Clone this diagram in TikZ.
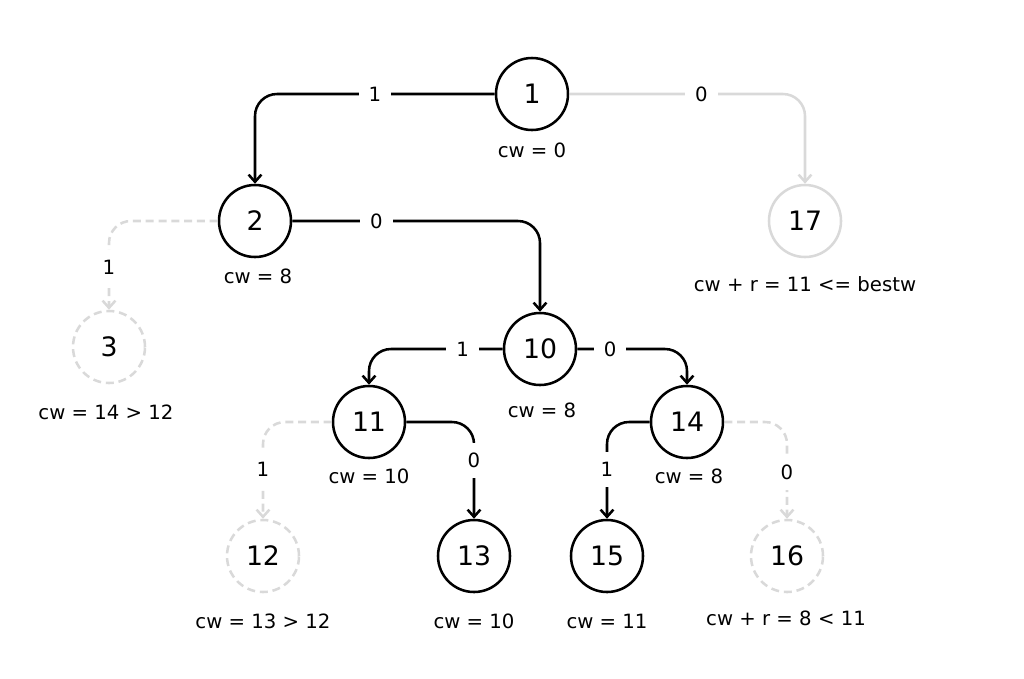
\documentclass[tikz,border=0pt]{standalone}
\usepackage{fontspec}
\setmainfont{DejaVu Sans}
\usetikzlibrary{arrows.meta}
\definecolor{cutgray}{HTML}{D9D9D9}
\tikzstyle{state} = [circle, draw, line width=1.8pt, minimum size=1.8cm,
    inner sep=0pt, font=\fontsize{19}{21}\selectfont]
\tikzstyle{bound} = [state, draw=cutgray]
\tikzstyle{pruned} = [state, draw=cutgray, dash pattern=on 2mm off 1.2mm]
\tikzstyle{line} = [draw, line width=1.8pt, rounded corners=0.55cm,
    -{Straight Barb[length=1.8mm,width=3.2mm]}]
\tikzstyle{cutline} = [line, cutgray]
\tikzstyle{cutdash} = [cutline, dash pattern=on 2mm off 1.2mm]
\tikzstyle{bit} = [fill=white, text=black, sharp corners, inner sep=2.5mm,
    inner ysep=0.5mm, font=\fontsize{14}{16}\selectfont]
\tikzstyle{note} = [font=\fontsize{14}{16}\selectfont]

\begin{document}
\begin{tikzpicture}[x=0.025cm, y=-0.025cm]
    \useasboundingbox (0,0) rectangle (1024,678);
    % Place nodes
    % Level 0 and 1
    \node [state] (n1) at (532,94) {1};
    \node [state] (n2) at (255,221) {2};
    \node [bound] (n17) at (805,221) {17};
    \node [pruned] (n3) at (109,347) {3};
    % Level 2 and 3
    \node [state] (n10) at (540,349) {10};
    \node [state] (n11) at (369,422) {11};
    \node [state] (n14) at (687,422) {14};
    % Leaves
    \node [pruned] (n12) at (263,556) {12};
    \node [state] (n13) at (474,556) {13};
    \node [state] (n15) at (607,556) {15};
    \node [pruned] (n16) at (787,556) {16};

    % Notes
    \node [note] (w1) at (532,150) {cw = 0};
    \node [note] (w2) at (258,276) {cw = 8};
    \node [note] (w17) at (805,284) {cw + r = 11 <= bestw};
    \node [note] (w3) at (106,412) {cw = 14 > 12};
    \node [note] (w10) at (542,410) {cw = 8};
    \node [note] (w11) at (369,476) {cw = 10};
    \node [note] (w14) at (689,476) {cw = 8};
    \node [note] (w12) at (263,621) {cw = 13 > 12};
    \node [note] (w13) at (474,621) {cw = 10};
    \node [note] (w15) at (607,621) {cw = 11};
    \node [note] (w16) at (786,618) {cw + r = 8 < 11};

    % Draw edges
    \path [line] (n1.west) -| node[bit, pos=0.25]{1} (n2.north);
    \path [cutline] (n1.east) -| node[bit, pos=0.28]{0} (n17.north);
    \path [line] (n2.east) -| node[bit, pos=0.17]{0} (n10.north);
    \path [cutdash] (n2.west) -| node[bit, pos=0.76, inner xsep=0.5mm, inner ysep=2.5mm]{1} (n3.north);
    \path [line] (n10.west) -| node[bit, pos=0.15]{1} (n11.north);
    \path [line] (n10.east) -| node[bit, pos=0.15]{0} (n14.north);
    \path [cutdash] (n11.west) -| node[bit, pos=0.745, inner xsep=0.5mm, inner ysep=2.5mm]{1} (n12.north);
    \path [line] (n11.east) -| node[bit, pos=0.7, inner xsep=0.5mm, inner ysep=2.5mm]{0} (n13.north);
    \path [line] (n14.west) -| node[bit, pos=0.745, inner xsep=0.5mm, inner ysep=2.5mm]{1} (n15.north);
    \path [cutdash] (n14.east) -| node[bit, pos=0.76, inner xsep=0.5mm, inner ysep=2.5mm]{0} (n16.north);

\end{tikzpicture}
\end{document}
